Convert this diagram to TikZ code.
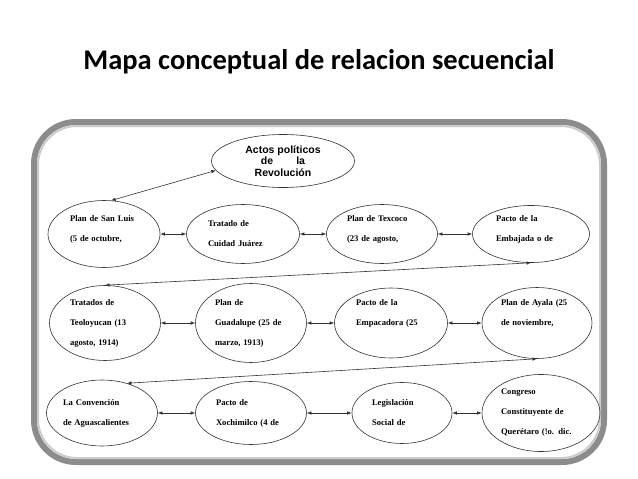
\documentclass[tikz,border=0pt]{standalone}
\usepackage{fontspec}
\setmainfont{Liberation Serif}
\newfontfamily\titlefont{Carlito}
\newfontfamily\arialfont{Liberation Sans}
\usetikzlibrary{shapes.geometric,arrows.meta}
\newcommand{\upfill}{\\[-10pt]\mbox{}}
\newcommand{\fullfill}{\\\mbox{}}
\begin{document}
\begin{tikzpicture}[x=1pt,y=-1pt,
  ev/.style={draw=black!80,line width=0.6pt,ellipse,inner sep=0pt,align=left,
    font=\fontsize{8.6}{20}\selectfont\bfseries},
  link/.style={draw=black!80,line width=0.6pt,{Latex[length=4.5pt,width=3.5pt]}-{Latex[length=4.5pt,width=3.5pt]}}]
\useasboundingbox (0,0) rectangle (638,479);
\fill[white] (0,0) rectangle (638,479);
% frame
\draw[line width=6pt,black!45,rounded corners=42pt] (34,122) rectangle (604,462);
\draw[line width=2pt,black!20,rounded corners=39pt] (38,126) rectangle (600,458);
\node (title) at (319,62) {\titlefont\bfseries\fontsize{28.5}{32}\selectfont Mapa conceptual de relacion secuencial};
% top ellipse
\node[draw=black!80,line width=0.6pt,ellipse,minimum width=143pt,minimum height=53pt,align=center,
  font=\arialfont\bfseries\fontsize{10.5}{11.5}\selectfont] (top) at (283,161)
  {Actos políticos\\de\hspace{2.2em}la\\Revolución};
% row 1
\node[ev,minimum width=112pt,minimum height=67pt,text width=68pt] (n1) at (104,234) {Plan de San Luis\\(5 de octubre,\upfill};
\node[ev,minimum width=113pt,minimum height=59pt,text width=70pt] (n2) at (243,234) {Tratado de\\Cuidad Juárez};
\node[ev,minimum width=111pt,minimum height=59pt,text width=70pt] (n3) at (382,234) {Plan de Texcoco\\(23 de agosto,\upfill};
\node[ev,minimum width=117pt,minimum height=57pt,text width=70pt] (n4) at (531,234) {Pacto de la\\Embajada o de\upfill};
% row 2
\node[ev,minimum width=111pt,minimum height=75pt,text width=70pt] (n5) at (105,323) {Tratados de\\Teoloyucan (13\\agosto, 1914)};
\node[ev,minimum width=111pt,minimum height=79pt,text width=72pt] (n6) at (251,323) {Plan de\\Guadalupe (25 de\\marzo, 1913)};
\node[ev,minimum width=113pt,minimum height=70pt,text width=70pt] (n7) at (391,323) {Pacto de la\\Empacadora (25\fullfill};
\node[ev,minimum width=110pt,minimum height=71pt,text width=72pt] (n8) at (537,323) {Plan de Ayala (25\\de noviembre,\fullfill};
% row 3
\node[ev,minimum width=111pt,minimum height=66pt,text width=78pt] (n9) at (102,413) {La Convención\\de Aguascalientes};
\node[ev,minimum width=111pt,minimum height=63pt,text width=70pt] (n10) at (251,413) {Pacto de\\Xochimilco (4 de};
\node[ev,minimum width=100pt,minimum height=61pt,text width=60pt] (n11) at (402,413) {Legislación\\Social de};
\node[ev,minimum width=118pt,minimum height=77pt,text width=80pt] (n12) at (541,413) {Congreso\\Constituyente de\\Querétaro (!o. dic.};
% connectors
\draw[link] (n1.78) -- (top.188);
\draw[link] (n1.east) -- (n2.west);
\draw[link] (n2.east) -- (n3.west);
\draw[link] (n3.east) -- (n4.west);
\draw[link] (n5.north) -- (n4.south);
\draw[link] (n5.east) -- (n6.west);
\draw[link] (n6.east) -- (n7.west);
\draw[link] (n7.east) -- (n8.west);
\draw[link] (n9.50) -- (n8.south);
\draw[link] (n9.east) -- (n10.west);
\draw[link] (n10.east) -- (n11.west);
\draw[link] (n11.east) -- (n12.west);
\end{tikzpicture}
\end{document}
